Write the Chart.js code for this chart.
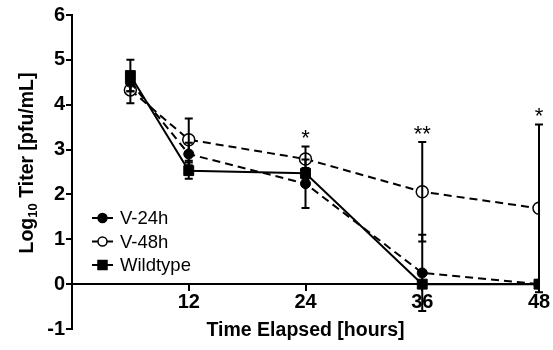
<!DOCTYPE html>
<html>
<head>
<meta charset="utf-8">
<script src="https://cdn.jsdelivr.net/npm/chart.js@4"></script>
<style>
    body { margin: 0; background: #fff; }
    #wrap { width: 553px; height: 350px; }
</style>
</head>
<body>
<div id="wrap"><canvas id="myChart"></canvas></div>
<script>
// hours after infection
var hours = [6, 12, 24, 36, 48];
var xTicks = [12, 24, 36, 48];
var yTicks = [-1, 0, 1, 2, 3, 4, 5, 6];
// log10 titer, mean and error
var v24 = [4.5, 2.9, 2.24, 0.25, 0];
var v24Err = [0.2, 0.25, 0.54, 0.85, 0];
var v48 = [4.33, 3.22, 2.79, 2.06, 1.69];
var v48Err = [0.3, 0.47, 0.28, 1.11, 1.87];
var wt = [4.65, 2.53, 2.47, 0, 0];
var wtErr = [0.35, 0.18, 0.12, 0, 0];
var sigMarks = ['', '', '*', '**', '*'];

var FONT = '"Liberation Sans", Arial, sans-serif';

function pts(vals) {
    return vals.map(function (v, i) { return { x: hours[i], y: v }; });
}

var errorBars = {
    id: 'errorBars',
    afterDatasetsDraw: function (chart) {
        var ctx = chart.ctx;
        var ys = chart.scales.y;
        ctx.save();
        ctx.strokeStyle = '#000';
        ctx.lineWidth = 2;
        chart.data.datasets.forEach(function (ds, di) {
            var meta = chart.getDatasetMeta(di);
            meta.data.forEach(function (el, i) {
                var e = ds.err[i];
                if (!e) return;
                var v = ds.data[i].y;
                var top = ys.getPixelForValue(v + e);
                var bot = ys.getPixelForValue(v - e);
                ctx.beginPath();
                ctx.moveTo(el.x, top); ctx.lineTo(el.x, bot);
                ctx.moveTo(el.x - 4, top); ctx.lineTo(el.x + 4, top);
                ctx.moveTo(el.x - 4, bot); ctx.lineTo(el.x + 4, bot);
                ctx.stroke();
            });
        });
        // significance stars above highest bar
        ctx.fillStyle = '#000';
        ctx.font = '22px ' + FONT;
        ctx.textAlign = 'center';
        ctx.textBaseline = 'alphabetic';
        sigMarks.forEach(function (m, i) {
            if (!m) return;
            var hi = -Infinity;
            chart.data.datasets.forEach(function (ds) {
                hi = Math.max(hi, ds.data[i].y + ds.err[i]);
            });
            var px = chart.scales.x.getPixelForValue(hours[i]);
            ctx.fillText(m, px, ys.getPixelForValue(hi) - 1);
        });
        ctx.restore();
    },
    afterDraw: function (chart) {
        var ctx = chart.ctx;
        ctx.save();
        // legend
        chart.data.datasets.forEach(function (ds, di) {
            var y = 218 + di * 23.5;
            ctx.strokeStyle = '#000';
            ctx.lineWidth = 2;
            ctx.setLineDash([]);
            ctx.beginPath();
            ctx.moveTo(92, y); ctx.lineTo(113, y);
            ctx.stroke();
            ctx.fillStyle = ds.pointBackgroundColor;
            ctx.lineWidth = 1.5;
            ctx.beginPath();
            if (ds.pointStyle === 'rect') {
                ctx.rect(98, y - 4.5, 9, 9);
            } else {
                ctx.arc(102.5, y, 4.5, 0, Math.PI * 2);
            }
            ctx.fill();
            ctx.stroke();
            ctx.fillStyle = '#000';
            ctx.font = '18.5px ' + FONT;
            ctx.textAlign = 'left';
            ctx.textBaseline = 'middle';
            ctx.fillText(ds.label, 120, y + 1);
        });
        // y title with subscript
        ctx.translate(28, 163);
        ctx.rotate(-Math.PI / 2);
        ctx.fillStyle = '#000';
        ctx.textBaseline = 'middle';
        var parts = [['Log', 19.5, 0], ['10', 13, 5], [' Titer [pfu/mL]', 19.5, 0]];
        var w = 0;
        parts.forEach(function (p) {
            ctx.font = 'bold ' + p[1] + 'px ' + FONT;
            w += ctx.measureText(p[0]).width;
        });
        var x = -w / 2;
        ctx.textAlign = 'left';
        parts.forEach(function (p) {
            ctx.font = 'bold ' + p[1] + 'px ' + FONT;
            ctx.fillText(p[0], x, p[2]);
            x += ctx.measureText(p[0]).width;
        });
        ctx.restore();
    }
};

new Chart("myChart", {
    type: "line",
    data: {
        datasets: [{
            label: "V-24h",
            data: pts(v24),
            err: v24Err,
            borderColor: '#000',
            borderWidth: 2,
            borderDash: [8, 5],
            pointStyle: 'circle',
            pointRadius: 5,
            pointBorderWidth: 1,
            pointBackgroundColor: '#000',
            pointBorderColor: '#000'
        }, {
            label: "V-48h",
            data: pts(v48),
            err: v48Err,
            borderColor: '#000',
            borderWidth: 2,
            borderDash: [8, 5],
            pointStyle: 'circle',
            pointRadius: 6,
            pointBorderWidth: 1.5,
            pointBackgroundColor: '#fff',
            pointBorderColor: '#000'
        }, {
            label: "Wildtype",
            data: pts(wt),
            err: wtErr,
            borderColor: '#000',
            borderWidth: 2,
            pointStyle: 'rect',
            pointRadius: 7,
            pointBorderWidth: 1,
            pointBackgroundColor: '#000',
            pointBorderColor: '#000'
        }]
    },
    options: {
        responsive: true,
        maintainAspectRatio: false,
        animation: false,
        layout: { padding: { left: 0, right: 14, top: 15, bottom: 21 } },
        plugins: {
            legend: { display: false },
            tooltip: { enabled: false }
        },
        scales: {
            x: {
                type: 'linear',
                position: { y: 0 },
                min: 0,
                max: 48,
                afterBuildTicks: function (s) {
                    s.ticks = xTicks.map(function (v) { return { value: v }; });
                },
                grid: { drawOnChartArea: false, drawTicks: true, tickLength: 6, color: '#000', lineWidth: 2 },
                border: { display: true, color: '#000', width: 2 },
                ticks: { color: '#000', font: { family: FONT, size: 20, weight: 'bold' }, padding: 0, maxRotation: 0 },
                title: {
                    display: true,
                    text: 'Time Elapsed [hours]',
                    color: '#000',
                    font: { family: FONT, size: 19.5, weight: 'bold' },
                    padding: { top: 5, bottom: 0 }
                }
            },
            y: {
                min: -1,
                max: 6,
                afterBuildTicks: function (s) {
                    s.ticks = yTicks.map(function (v) { return { value: v }; });
                },
                afterFit: function (s) { s.width = 72; },
                grid: { drawOnChartArea: false, drawTicks: true, tickLength: 6, color: '#000', lineWidth: 2 },
                border: { display: true, color: '#000', width: 2 },
                ticks: { color: '#000', font: { family: FONT, size: 20, weight: 'bold' }, padding: 1 }
            }
        }
    },
    plugins: [errorBars]
});
</script>
</body>
</html>
